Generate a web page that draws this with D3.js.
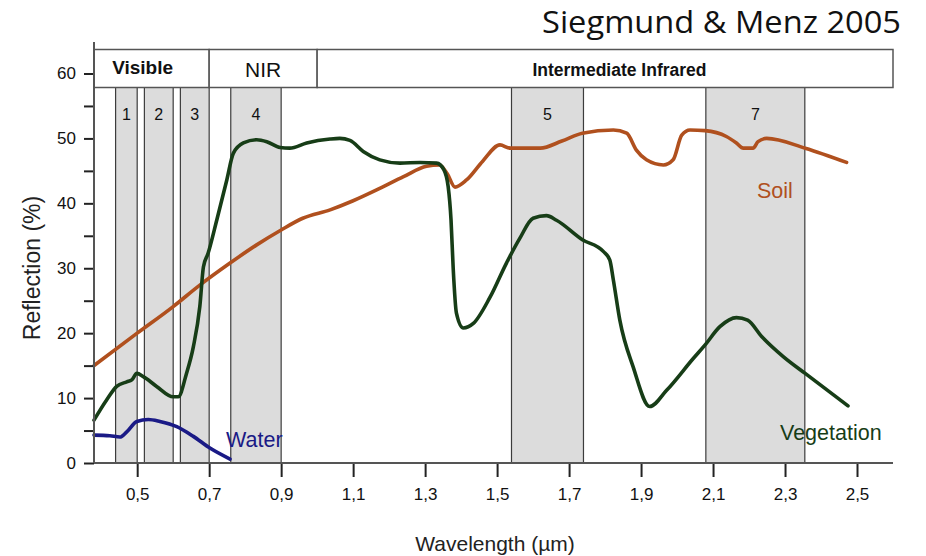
<!DOCTYPE html>
<html>
<head>
<meta charset="utf-8">
<script src="https://cdn.jsdelivr.net/npm/d3@7"></script>
<style>
  html, body { margin: 0; padding: 0; background: #fff; }
  svg { display: block; font-family: "Liberation Sans", Arial, sans-serif; }
</style>
</head>
<body>
<svg id="chart" width="926" height="556"></svg>
<script>
// Spectral reflectance curves: wavelength (µm) and reflection (%)
const soilWavelength = [0.38, 0.50, 0.60, 0.674, 0.758, 0.832, 0.90, 0.96, 1.036, 1.10, 1.174, 1.24, 1.304, 1.34, 1.362, 1.383, 1.415, 1.46, 1.508, 1.536, 1.62, 1.68, 1.737, 1.823, 1.86, 1.887, 1.915, 1.962, 1.989, 2.013, 2.036, 2.078, 2.137, 2.165, 2.184, 2.211, 2.225, 2.249, 2.356, 2.471];
const soilReflection = [15.0, 20.0, 24.1, 27.4, 30.8, 33.6, 35.9, 37.7, 39.0, 40.4, 42.3, 44.1, 45.7, 45.9, 44.5, 42.5, 43.6, 46.5, 49.0, 48.5, 48.5, 49.6, 50.8, 51.3, 50.8, 48.2, 46.7, 45.9, 46.7, 50.5, 51.3, 51.2, 50.3, 49.3, 48.5, 48.5, 49.5, 50.0, 48.5, 46.3];

const vegWavelength = [0.38, 0.415, 0.443, 0.471, 0.485, 0.499, 0.517, 0.554, 0.60, 0.614, 0.637, 0.656, 0.674, 0.684, 0.697, 0.721, 0.749, 0.767, 0.795, 0.832, 0.86, 0.897, 0.924, 0.971, 1.036, 1.063, 1.091, 1.128, 1.174, 1.23, 1.286, 1.332, 1.352, 1.364, 1.372, 1.378, 1.387, 1.406, 1.434, 1.48, 1.526, 1.563, 1.60, 1.637, 1.665, 1.737, 1.795, 1.813, 1.823, 1.841, 1.878, 1.924, 1.971, 2.045, 2.078, 2.119, 2.165, 2.196, 2.235, 2.295, 2.356, 2.475];
const vegReflection = [6.6, 9.7, 11.8, 12.5, 12.8, 13.8, 13.3, 11.8, 10.2, 10.2, 13.8, 17.9, 24.1, 30.2, 32.3, 37.4, 43.6, 47.7, 49.3, 49.8, 49.5, 48.6, 48.5, 49.3, 49.9, 50.0, 49.7, 48.0, 46.7, 46.2, 46.3, 46.2, 45.2, 42.6, 37.4, 30.0, 23.1, 20.8, 21.5, 25.5, 30.8, 34.6, 37.7, 38.1, 37.4, 34.4, 32.6, 31.3, 28.2, 22.0, 14.8, 8.7, 11.2, 16.1, 18.2, 21.0, 22.4, 22.0, 19.5, 16.4, 13.8, 8.8];

const waterWavelength = [0.38, 0.424, 0.452, 0.471, 0.499, 0.531, 0.563, 0.61, 0.656, 0.702, 0.758];
const waterReflection = [4.3, 4.2, 4.0, 4.8, 6.4, 6.7, 6.4, 5.6, 4.1, 2.3, 0.6];

// Landsat TM bands (start / end wavelength, µm)
const bandNames = ["1", "2", "3", "4", "5", "7"];
const bandStart = [0.44, 0.52, 0.62, 0.76, 1.54, 2.08];
const bandEnd   = [0.50, 0.60, 0.70, 0.90, 1.74, 2.355];

// Spectral regions shown in the header strip
const regionNames = ["Visible", "NIR", "Intermediate Infrared"];
const regionStart = [0.38, 0.70, 1.00];
const regionEnd   = [0.70, 1.00, 2.60];
const regionLabelAt = [0.515, 0.85, 1.84];

// Axis ticks
const xTicks = [0.5, 0.7, 0.9, 1.1, 1.3, 1.5, 1.7, 1.9, 2.1, 2.3, 2.5];
const yTicks = [0, 5, 10, 15, 20, 25, 30, 35, 40, 45, 50, 55, 60];

const svg = d3.select("#chart");

const x = d3.scaleLinear().domain([0.38, 2.6]).range([94, 893]);
const y = d3.scaleLinear().domain([0, 60]).range([463, 73.5]);

const headerTop = 49.5, headerBottom = 87.5, axisTop = 42;
const baseY = y(0);

// Band shading
const bands = bandNames.map((n, i) => ({ name: n, start: bandStart[i], end: bandEnd[i] }));
svg.append("g").selectAll("rect").data(bands).join("rect")
  .attr("x", d => x(d.start))
  .attr("y", headerBottom)
  .attr("width", d => x(d.end) - x(d.start))
  .attr("height", baseY - headerBottom)
  .attr("fill", "#dcdcdc");

const edges = bands.flatMap(d => [d.start, d.end]);
svg.append("g").selectAll("line").data(edges).join("line")
  .attr("x1", d => x(d)).attr("x2", d => x(d))
  .attr("y1", headerBottom).attr("y2", baseY)
  .attr("stroke", "#3c3c3c").attr("stroke-width", 1.2);

svg.append("g").selectAll("text").data(bands).join("text")
  .attr("x", d => (x(d.start) + x(d.end)) / 2)
  .attr("y", 120)
  .attr("text-anchor", "middle")
  .attr("font-size", 16)
  .attr("fill", "#111")
  .text(d => d.name);

// Header strip
const regions = regionNames.map((n, i) => ({ name: n, start: regionStart[i], end: regionEnd[i], at: regionLabelAt[i] }));
const hdr = svg.append("g");
hdr.selectAll("rect").data(regions).join("rect")
  .attr("x", d => x(d.start))
  .attr("y", headerTop)
  .attr("width", d => x(d.end) - x(d.start))
  .attr("height", headerBottom - headerTop)
  .attr("fill", "#fff")
  .attr("stroke", "#555")
  .attr("stroke-width", 1.5);
hdr.selectAll("text").data(regions).join("text")
  .attr("x", d => x(d.at))
  .attr("y", (d, i) => [74, 76.5, 76][i])
  .attr("text-anchor", "middle")
  .attr("font-size", (d, i) => [19, 21, 17.5][i])
  .attr("font-weight", (d, i) => i === 1 ? "normal" : "bold")
  .attr("fill", "#111")
  .text(d => d.name);

// Curves
const line = d3.line()
  .x(d => x(d[0]))
  .y(d => y(d[1]))
  .curve(d3.curveMonotoneX);

const series = [
  { w: waterWavelength, r: waterReflection, color: "#1a1a86" },
  { w: soilWavelength, r: soilReflection, color: "#b0501e" },
  { w: vegWavelength, r: vegReflection, color: "#173d17" }
];
svg.append("g").selectAll("path").data(series).join("path")
  .attr("d", s => line(s.w.map((w, i) => [w, s.r[i]])))
  .attr("fill", "none")
  .attr("stroke", s => s.color)
  .attr("stroke-width", 3.6)
  .attr("stroke-linejoin", "round")
  .attr("stroke-linecap", "round");

// Series labels
svg.append("text").attr("x", 757).attr("y", 198).attr("font-size", 21.5)
  .attr("fill", "#b0501e").text("Soil");
svg.append("text").attr("x", 780).attr("y", 439.5).attr("font-size", 21.5)
  .attr("fill", "#173d17").text("Vegetation");
svg.append("text").attr("x", 226).attr("y", 446.5).attr("font-size", 21.5)
  .attr("fill", "#1a1a86").text("Water");

// Y axis
const yAxis = svg.append("g").attr("transform", `translate(${x(0.38)},0)`)
  .call(d3.axisLeft(y).tickValues(yTicks).tickSize(10).tickPadding(8)
    .tickFormat(d => d % 10 === 0 ? d : ""));
yAxis.select(".domain").remove();
yAxis.selectAll(".tick line").attr("stroke", "#222").attr("stroke-width", 2);
yAxis.selectAll(".tick text").attr("font-size", 17).attr("fill", "#111")
  .attr("font-family", "Liberation Sans, Arial, sans-serif");
svg.append("line")
  .attr("x1", x(0.38)).attr("x2", x(0.38))
  .attr("y1", axisTop).attr("y2", baseY)
  .attr("stroke", "#555").attr("stroke-width", 2);

// X axis
const xAxis = svg.append("g").attr("transform", `translate(0,${baseY})`)
  .call(d3.axisBottom(x).tickValues(xTicks).tickSize(14).tickPadding(11)
    .tickFormat(d => d3.format(".1f")(d).replace(".", ",")));
xAxis.select(".domain").remove();
xAxis.selectAll(".tick line").attr("stroke", "#222").attr("stroke-width", 2);
xAxis.selectAll(".tick text").attr("font-size", 17).attr("fill", "#111")
  .attr("font-family", "Liberation Sans, Arial, sans-serif");
svg.append("line")
  .attr("x1", x(0.38)).attr("x2", x(2.6))
  .attr("y1", baseY).attr("y2", baseY)
  .attr("stroke", "#555").attr("stroke-width", 2);

// Axis titles
svg.append("text")
  .attr("transform", `translate(40,268) rotate(-90)`)
  .attr("text-anchor", "middle")
  .attr("font-size", 23)
  .attr("fill", "#222")
  .text("Reflection (%)");
svg.append("text")
  .attr("x", 495).attr("y", 551)
  .attr("text-anchor", "middle")
  .attr("font-size", 21)
  .attr("fill", "#222")
  .text("Wavelength (µm)");

// Source
svg.append("text")
  .attr("x", 901).attr("y", 33)
  .attr("text-anchor", "end")
  .attr("font-family", "Open Sans, Noto Sans, sans-serif")
  .attr("font-size", 31)
  .attr("textLength", 359)
  .attr("lengthAdjust", "spacingAndGlyphs")
  .attr("fill", "#111")
  .text("Siegmund & Menz 2005");
</script>
</body>
</html>
